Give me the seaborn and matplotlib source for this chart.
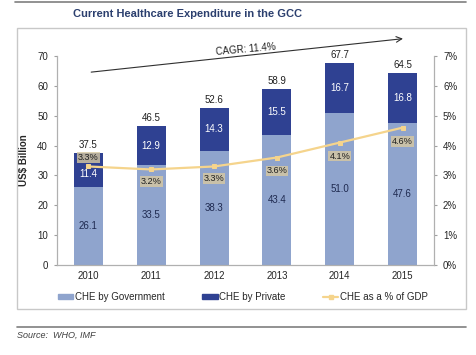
import numpy as np
import pandas as pd
import matplotlib
matplotlib.use('Agg')
import matplotlib.pyplot as plt
import seaborn as sns
from matplotlib.patches import Rectangle, Patch
from matplotlib.lines import Line2D

years = ['2010', '2011', '2012', '2013', '2014', '2015']
che_gov = [26.1, 33.5, 38.3, 43.4, 51.0, 47.6]
che_private = [11.4, 12.9, 14.3, 15.5, 16.7, 16.8]
che_total = [37.5, 46.5, 52.6, 58.9, 67.7, 64.5]
che_gdp = [3.3, 3.2, 3.3, 3.6, 4.1, 4.6]

gov_col = '#8FA4CD'
priv_col = '#2F4192'
line_col = '#F5D48C'
box_col = '#D8C9A0'

sns.set_style('white')
plt.rcParams['font.family'] = ['Liberation Sans', 'DejaVu Sans']

df = pd.DataFrame({'Year': years, 'Gov': che_gov, 'Private': che_private,
                   'Total': che_total, 'GDP': che_gdp})
df['Stack'] = df['Gov'] + df['Private']

fig = plt.figure(figsize=(4.76, 3.55), dpi=100)

# outer decoration: top rule, chart box, source rule
fig.add_artist(Line2D([15/476, 466/476], [1 - 2/355, 1 - 2/355], color='#7F7F7F', lw=1.2))
fig.add_artist(Rectangle((17/476, 1 - 309/355), 449/476, 281/355, fill=False,
                         edgecolor='#C8C8C8', lw=1.0))
fig.add_artist(Line2D([17/476, 466/476], [1 - 327/355, 1 - 327/355], color='#7F7F7F', lw=1.2))
fig.text(73/476, 1 - 14/355, 'Current Healthcare Expenditure in the GCC', fontsize=8,
         fontweight='bold', color='#2B3F6E', va='center', ha='left')
fig.text(17/476, 1 - 335/355, 'Source:  WHO, IMF', fontsize=6.5, style='italic',
         color='#404040', va='center', ha='left')

ax = fig.add_axes([57/476, 1 - 265/355, 377/476, 209/355])

# stacked bars: full stack in dark, government on top of it in light
sns.barplot(data=df, x='Year', y='Stack', color=priv_col, width=0.46, saturation=1,
            linewidth=0, ax=ax, zorder=2)
sns.barplot(data=df, x='Year', y='Gov', color=gov_col, width=0.46, saturation=1,
            linewidth=0, ax=ax, zorder=2)

ax.set_ylim(0, 70)
ax.set_xlim(-0.5, 5.5)
ax.set_yticks(range(0, 71, 10))
ax.set_xlabel('')
ax.set_ylabel('US$ Billion', fontsize=7, fontweight='bold', labelpad=6)
ax.tick_params(axis='y', labelsize=7, length=2.5, color='#A0A0A0', pad=4)
ax.tick_params(axis='x', labelsize=7, length=0, pad=4)
ax.set_xticks(np.arange(-0.5, 6, 1), minor=True)
ax.tick_params(axis='x', which='minor', length=3, color='#A0A0A0')
for s in ['left', 'bottom', 'right']:
    ax.spines[s].set_color('#B0B0B0')
    ax.spines[s].set_linewidth(0.8)
ax.spines['top'].set_visible(False)

priv_shift = [-1.3, 0, 0, 0, 0, 0]
for i, (g, p, t) in enumerate(zip(che_gov, che_private, che_total)):
    ax.text(i, g / 2, f'{g:.1f}', ha='center', va='center', fontsize=7, color='#1F2A50')
    ax.text(i, g + p / 2 + priv_shift[i], f'{p:.1f}', ha='center', va='center',
            fontsize=7, color='white')
    ax.text(i, g + p + 1.0, f'{t:.1f}', ha='center', va='bottom', fontsize=7, color='#202020')

# right axis: share of GDP
ax2 = ax.twinx()
sns.lineplot(x=np.arange(len(years)), y=che_gdp, ax=ax2, color=line_col, lw=1.6,
             marker='s', markersize=2.2, markeredgecolor=line_col, zorder=3)
ax2.set_ylim(0, 7)
ax2.set_yticks(range(0, 8))
ax2.set_yticklabels([f'{v}%' for v in range(0, 8)])
ax2.tick_params(axis='y', labelsize=7, length=2.5, color='#A0A0A0', pad=4)
for s in ['left', 'bottom', 'right']:
    ax2.spines[s].set_color('#B0B0B0')
    ax2.spines[s].set_linewidth(0.8)
ax2.spines['top'].set_visible(False)

offsets = [0.3, -0.4, -0.4, -0.45, -0.45, -0.45]
for i, (v, o) in enumerate(zip(che_gdp, offsets)):
    ax2.text(i, v + o, f'{v:.1f}%', ha='center', va='center', fontsize=6.6, color='#202020',
             bbox=dict(boxstyle='square,pad=0.1', fc=box_col, ec='none', alpha=0.8), zorder=4)

# CAGR arrow
ax.annotate('', xy=(5.05, 75.9), xytext=(0, 64.5), xycoords='data',
            arrowprops=dict(arrowstyle='->', color='#303030', lw=0.8), annotation_clip=False)
ax.text(2.5, 72.2, 'CAGR: 11.4%', fontsize=7, rotation=5, ha='center', va='center',
        color='#202020', clip_on=False)

handles = [Patch(color=gov_col), Patch(color=priv_col),
           Line2D([], [], color=line_col, lw=1.6, marker='s', markersize=2.2)]
labels = ['CHE by Government', 'CHE by Private', 'CHE as a % of GDP']
fig.legend(handles, labels, loc='center', bbox_to_anchor=(243/476, 1 - 297/355), ncol=3,
           frameon=False, fontsize=7, handlelength=1.6, handleheight=0.4,
           handletextpad=0.2, columnspacing=3.8)

fig.savefig('out.png', dpi=100)
